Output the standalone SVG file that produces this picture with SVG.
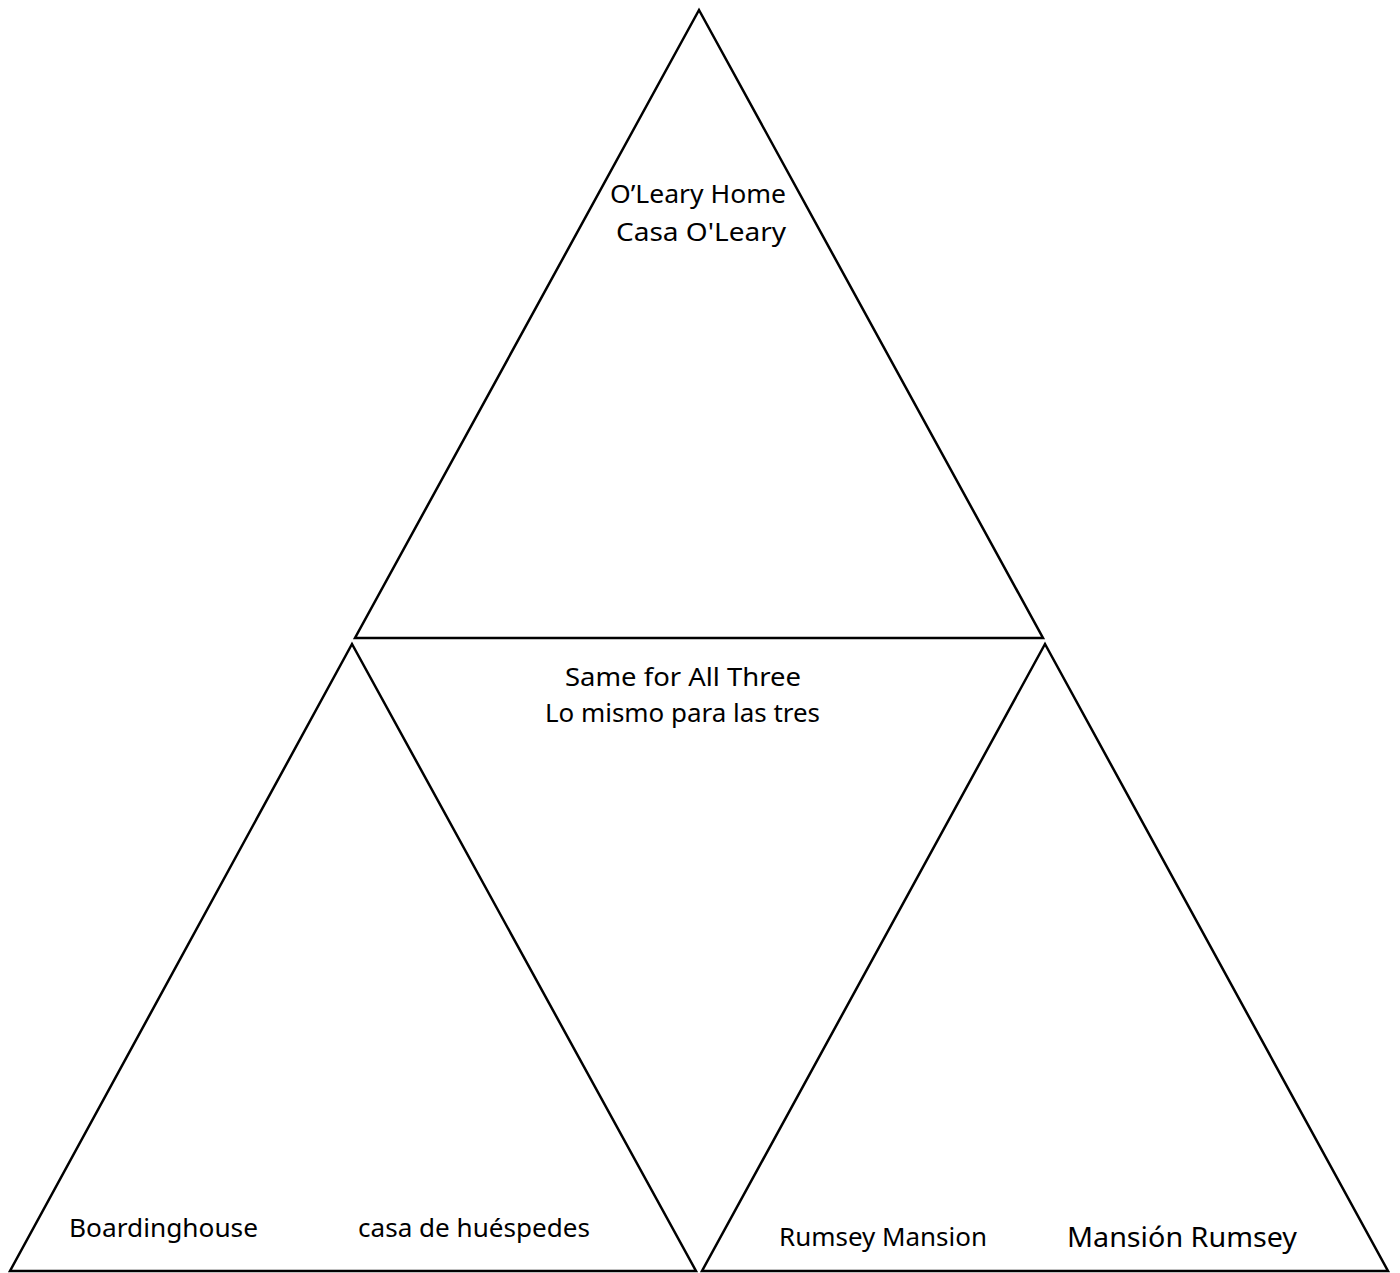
<svg xmlns="http://www.w3.org/2000/svg" width="1400" height="1273" viewBox="0 0 1400 1273">
<style>
.tri{fill:none;stroke:#000;stroke-width:2.5;stroke-linejoin:miter}
.t{font-family:"Noto Sans","DejaVu Sans",sans-serif;font-size:25px;fill:#000}
</style>
<rect width="1400" height="1273" fill="#fff"/>
<g id="top">
<polygon class="tri" points="699,10 1043,638 355,638"/>
<text class="t" x="610" y="203" textLength="176" lengthAdjust="spacingAndGlyphs">O’Leary Home</text>
<text class="t" x="616" y="241" textLength="170" lengthAdjust="spacingAndGlyphs">Casa O'Leary</text>
</g>
<g id="middle">
<text class="t" x="565" y="686" textLength="236" lengthAdjust="spacingAndGlyphs">Same for All Three</text>
<text class="t" x="545" y="722" textLength="275" lengthAdjust="spacingAndGlyphs">Lo mismo para las tres</text>
</g>
<g id="left">
<polygon class="tri" points="352,644 696,1271 10,1271"/>
<text class="t" x="69" y="1237" textLength="189" lengthAdjust="spacingAndGlyphs">Boardinghouse</text>
<text class="t" x="358" y="1237" textLength="232" lengthAdjust="spacingAndGlyphs">casa de huéspedes</text>
</g>
<g id="right">
<polygon class="tri" points="1045,644 1388,1271 702,1271"/>
<text class="t" x="779" y="1246" textLength="208" lengthAdjust="spacingAndGlyphs">Rumsey Mansion</text>
<text class="t" x="1067" y="1247" style="font-size:27px" textLength="230" lengthAdjust="spacingAndGlyphs">Mansión Rumsey</text>
</g>
<g id="connectors"></g>
</svg>
